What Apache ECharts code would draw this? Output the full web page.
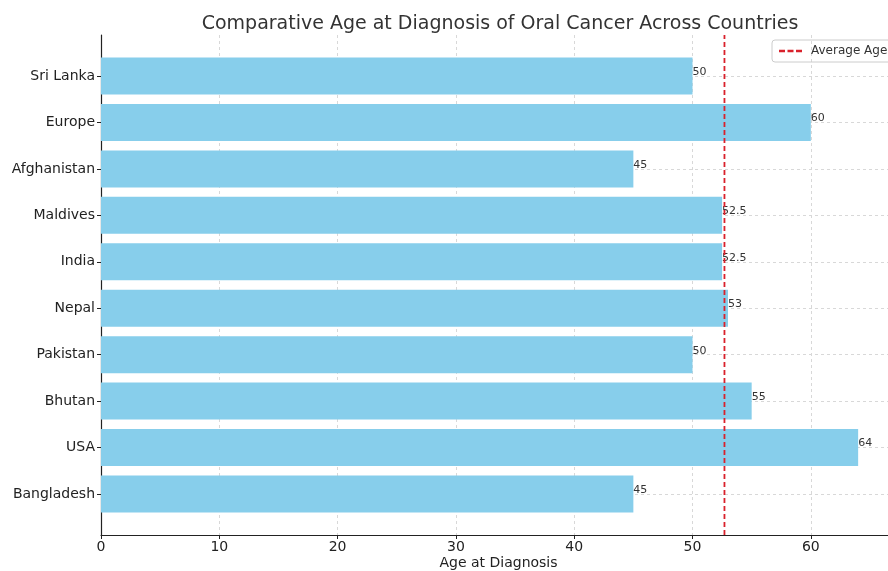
<!DOCTYPE html>
<html>
<head>
<meta charset="utf-8">
<script src="https://cdn.jsdelivr.net/npm/echarts@6/dist/echarts.min.js"></script>
<style>html,body{margin:0;padding:0;background:#fff}#chart{width:888px;height:571px}</style>
</head>
<body>
<div id="chart"></div>
<script>
// Countries listed bottom-to-top, with the typical age at diagnosis
const countries = ['Bangladesh', 'USA', 'Bhutan', 'Pakistan', 'Nepal', 'India', 'Maldives', 'Afghanistan', 'Europe', 'Sri Lanka'];
const ages = [45, 64, 55, 50, 53, 52.5, 52.5, 45, 60, 50];
const xTicks = [0, 10, 20, 30, 40, 50, 60];

const averageAge = ages.reduce((a, b) => a + b, 0) / ages.length;
const xMax = Math.max(...ages) * 1.05;
const FONT = 'DejaVu Sans';
const AVG_COLOR = '#d9212b';

const chart = echarts.init(document.getElementById('chart'));
chart.setOption({
  animation: false,
  textStyle: { fontFamily: FONT },
  title: {
    text: 'Comparative Age at Diagnosis of Oral Cancer Across Countries',
    left: 495, top: 10, textAlign: 'center',
    textStyle: { fontFamily: FONT, fontSize: 19, fontWeight: 'normal', color: '#333' }
  },
  legend: {
    data: [{
      name: 'Average Age',
      icon: 'path://M0,4h6v2.4h-6z M8.5,4h6v2.4h-6z M17,4h6v2.4h-6z',
      itemStyle: { color: AVG_COLOR }
    }],
    left: 772, top: 40,
    itemWidth: 23, itemHeight: 10, itemGap: 6,
    padding: [5, 8, 5, 7],
    borderColor: '#cccccc', borderWidth: 1, borderRadius: 3,
    textStyle: { fontFamily: FONT, fontSize: 12, color: '#333', padding: [0, 0, 0, 4] }
  },
  grid: [
    // outer frame: spines, x ticks, vertical grid
    { left: 101, width: 795, top: 35, height: 500, outerBoundsMode: 'none', containLabel: false },
    // bar area: category centers span between first and last country
    { left: 101, width: 795, top: 76, height: 418, outerBoundsMode: 'none', containLabel: false }
  ],
  xAxis: [
    {
      gridIndex: 0, type: 'value', min: 0, max: xMax, interval: 10,
      name: 'Age at Diagnosis', nameLocation: 'middle', nameGap: 28, nameMoveOverlap: false,
      nameTextStyle: { fontFamily: FONT, fontSize: 14, color: '#222', verticalAlign: 'middle' },
      axisLine: { show: true, lineStyle: { color: '#222', width: 1.2 } },
      axisTick: { show: true, length: 4, lineStyle: { color: '#222' } },
      axisLabel: {
        fontFamily: FONT, fontSize: 14, color: '#222', margin: 5,
        formatter: v => (xTicks.includes(v) ? String(v) : '')
      },
      splitLine: { show: true, lineStyle: { color: '#d8d8d8', type: [3, 3] } }
    },
    {
      gridIndex: 1, type: 'value', min: 0, max: xMax,
      axisLine: { show: false }, axisTick: { show: false },
      axisLabel: { show: false }, splitLine: { show: false }
    }
  ],
  yAxis: [
    {
      gridIndex: 0, type: 'value', min: 0, max: 1,
      axisLine: { show: true, lineStyle: { color: '#222', width: 1.2 } },
      axisTick: { show: false }, axisLabel: { show: false }, splitLine: { show: false }
    },
    {
      gridIndex: 1, type: 'category', data: countries, boundaryGap: false,
      axisLine: { show: false },
      axisTick: { show: true, length: 4, inside: false, lineStyle: { color: '#222' } },
      axisLabel: { fontFamily: FONT, fontSize: 14, color: '#222', margin: 6 },
      splitLine: { show: true, lineStyle: { color: '#d8d8d8', type: [3, 3] } }
    }
  ],
  series: [
    {
      name: 'Age', type: 'bar', xAxisIndex: 1, yAxisIndex: 1,
      data: ages, barWidth: 37, clip: false,
      itemStyle: { color: '#87ceeb' },
      label: {
        show: true, position: 'right', distance: 0, offset: [0, -4],
        fontFamily: FONT, fontSize: 11, color: '#333'
      },
      z: 2
    },
    {
      name: 'Average Age', type: 'line', xAxisIndex: 0, yAxisIndex: 0,
      data: [[averageAge, 0], [averageAge, 1]],
      symbol: 'none', showSymbol: false,
      lineStyle: { color: AVG_COLOR, width: 1.8, type: [5, 3] },
      itemStyle: { color: AVG_COLOR },
      z: 5
    }
  ]
});
</script>
</body>
</html>
